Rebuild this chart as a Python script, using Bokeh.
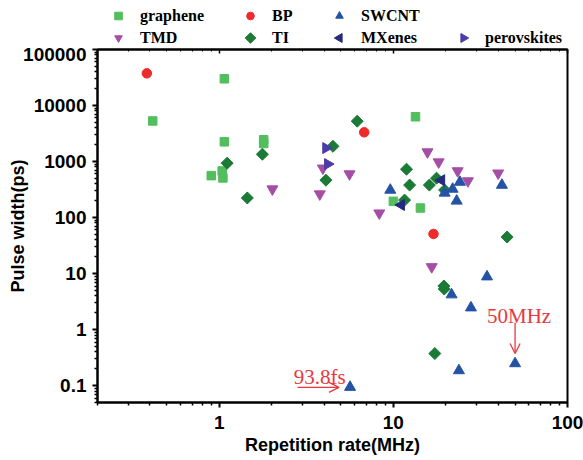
import numpy as np
from bokeh.plotting import figure
from bokeh.layouts import column
from bokeh.models import (FixedTicker, LogAxis, Legend, LegendItem, Label, Arrow, OpenHead,
                          Range1d)
from bokeh.embed import file_html
from bokeh.resources import INLINE

# ---------------- data ----------------
graphene_x = [0.415, 1.07, 1.07, 0.90, 1.04, 1.05, 1.80, 1.80, 13.4, 10.0, 14.3]
graphene_y = [5300, 30000, 2250, 560, 680, 510, 2450, 2100, 6300, 195, 148]

tmd_x = [2.02, 3.78, 3.94, 5.6, 15.7, 18.2, 8.3, 23.4, 26.8, 40.0, 16.6]
tmd_y = [323, 263, 760, 600, 1480, 980, 120, 680, 450, 620, 13.2]

bp_x = [0.384, 6.8, 17.0]
bp_y = [37500, 3330, 51]

ti_x = [1.11, 1.77, 1.45, 4.1, 4.5, 6.2, 11.9, 12.4, 11.6, 16.1, 17.7, 19.7, 45.0, 19.5, 19.6, 17.3]
ti_y = [935, 1350, 224, 465, 1870, 5250, 730, 380, 205, 380, 505, 310, 45, 6.0, 5.3, 0.374]

swcnt_x = [9.6, 19.7, 21.9, 24.1, 23.1, 42.0, 34.5, 21.6, 27.9, 50.0, 23.8, 5.64]
swcnt_y = [310, 275, 323, 430, 198, 380, 8.8, 4.2, 2.46, 0.248, 0.186, 0.0938]

mxenes_x = [18.9, 11.1]
mxenes_y = [465, 168]

perov_x = [4.1, 4.2]
perov_y = [1740, 900]

x_major = [1, 10, 100]
x_major_labels = ["1", "10", "100"]
y_major = [0.1, 1, 10, 100, 1000, 10000, 100000]
y_major_labels = ["0.1", "1", "10", "100", "1000", "10000", "100000"]

# annotations
ann1_text = "93.8fs"
ann1_pos = (2.68, 0.14)
ann1_arrow = (2.82, 0.093, 4.87, 0.093)
ann2_text = "50MHz"
ann2_pos = (34.5, 1.78)
ann2_arrow = (50.0, 1.33, 50.0, 0.374)

# ---------------- colours ----------------
c_gr = "#52BE5E"
c_tmd = "#A54EA5"
c_bp = "#EE2A2A"
c_ti = "#1B7A36"
c_sw = "#2453A6"
c_mx = "#262A7E"
c_pv = "#4B3CA8"
red = "#E8383D"

# ---------------- main figure ----------------
p = figure(width=583, height=413, x_axis_type="log", y_axis_type="log",
           x_range=(0.2, 100), y_range=(0.05, 100000), title=None,
           output_backend="svg", toolbar_location=None,
           min_border_left=97, min_border_right=16, min_border_top=2, min_border_bottom=58)
p.xgrid.visible = False
p.ygrid.visible = False
p.outline_line_color = "black"
p.outline_line_width = 2
p.background_fill_color = "white"

def minor_ticks(lo_exp, hi_exp, lo, hi):
    out = []
    for e in range(lo_exp, hi_exp + 1):
        for k in range(2, 10):
            v = k * 10.0 ** e
            if lo <= v <= hi:
                out.append(v)
    return out

xt = FixedTicker(ticks=x_major, minor_ticks=minor_ticks(-1, 1, 0.2, 100))
yt = FixedTicker(ticks=y_major, minor_ticks=minor_ticks(-2, 4, 0.05, 100000))
p.xaxis.ticker = xt
p.yaxis.ticker = yt
p.xaxis.major_label_overrides = {v: s for v, s in zip(x_major, x_major_labels)}
p.yaxis.major_label_overrides = {v: s for v, s in zip(y_major, y_major_labels)}

for ax in [p.xaxis[0], p.yaxis[0]]:
    ax.axis_line_width = 2
    ax.major_tick_line_width = 2
    ax.minor_tick_line_width = 1.5
    ax.major_tick_out = 5
    ax.major_tick_in = 0
    ax.minor_tick_out = 3
    ax.minor_tick_in = 0
    ax.major_label_text_font = "Liberation Sans"
    ax.major_label_text_font_style = "bold"
    ax.major_label_text_font_size = "19px"
    ax.major_label_text_color = "black"
    ax.axis_label_text_font = "Liberation Sans"
    ax.axis_label_text_font_style = "bold"
    ax.axis_label_text_font_size = "18px"
    ax.axis_label_text_color = "black"

p.xaxis.major_label_standoff = 8
p.yaxis.major_label_standoff = 6
p.xaxis.axis_label_standoff = 3
p.yaxis.axis_label_standoff = -8
p.xaxis.axis_label = "Repetition rate(MHz)"
p.yaxis.axis_label = "Pulse width(ps)"

top = LogAxis(ticker=xt, major_label_text_font_size="1px", major_label_text_alpha=0,
              major_label_standoff=0,
              axis_line_width=2, major_tick_line_width=1.5, minor_tick_line_width=1,
              major_tick_out=0, major_tick_in=4, minor_tick_out=0, minor_tick_in=2)
p.add_layout(top, "above")

r_gr = p.scatter(graphene_x, graphene_y, marker="square", size=8.5, color=c_gr)
r_tmd = p.scatter(tmd_x, tmd_y, marker="inverted_triangle", size=11, color=c_tmd)
r_bp = p.scatter(bp_x, bp_y, marker="circle", size=9.5, color=c_bp)
r_ti = p.scatter(ti_x, ti_y, marker="square", angle=np.pi / 4, size=8.5, color=c_ti)
r_sw = p.scatter(swcnt_x, swcnt_y, marker="triangle", size=11, color=c_sw)
r_mx = p.scatter(mxenes_x, mxenes_y, marker="triangle", angle=np.pi / 2, size=11, color=c_mx)
r_pv = p.scatter(perov_x, perov_y, marker="triangle", angle=-np.pi / 2, size=11, color=c_pv)

for (txt, pos) in [(ann1_text, ann1_pos), (ann2_text, ann2_pos)]:
    p.add_layout(Label(x=pos[0], y=pos[1], text=txt, text_font="Liberation Serif",
                       text_font_size="21px", text_color=red, text_baseline="alphabetic"))
for (xs, ys, xe, ye) in [ann1_arrow, ann2_arrow]:
    p.add_layout(Arrow(end=OpenHead(line_color=red, line_width=1.3, size=10),
                       x_start=xs, y_start=ys, x_end=xe, y_end=ye,
                       line_color=red, line_width=1.3))

# ---------------- legend strip (4 aligned columns) ----------------
# The column layout aligns this strip's frame with the main frame.  Its default
# ranges hold none of the (positive) data; an extra pixel range is used to draw
# the rotated legend swatches that Bokeh's legend does not rotate itself.
lf = figure(width=583, height=47, x_range=(-2, -1), y_range=(-2, -1), title=None,
            output_backend="svg", toolbar_location=None,
            x_axis_location=None, y_axis_location=None,
            min_border_left=97, min_border_right=16,
            min_border_top=0, min_border_bottom=0)
lf.xgrid.visible = False
lf.ygrid.visible = False
lf.outline_line_color = None
lf.extra_x_ranges = {"px": Range1d(0, 470)}
lf.extra_y_ranges = {"px": Range1d(0, 47)}

LG_Y = 0             # legend bottom, px above strip bottom
ROW_H, ROW_GAP = 19, 3
GLYPH_W = 20
col_x = [11, 143, 232, 356]   # legend column left edges, px from frame left

def proxy(xs, ys, marker, color, alpha=1.0):
    return lf.scatter(xs, ys, marker=marker, size=8, color=color, alpha=alpha)

l_gr = proxy(graphene_x, graphene_y, "square", c_gr)
l_tmd = proxy(tmd_x, tmd_y, "inverted_triangle", c_tmd)
l_bp = proxy(bp_x, bp_y, "circle", c_bp)
l_ti = proxy(ti_x, ti_y, "square", c_ti, 0.0)
l_sw = proxy(swcnt_x, swcnt_y, "triangle", c_sw)
l_mx = proxy(mxenes_x, mxenes_y, "triangle", c_mx, 0.0)
l_pv = proxy(perov_x, perov_y, "triangle", c_pv, 0.0)

def col_legend(items, vx):
    lg = Legend(items=items, location=(vx, LG_Y), orientation="vertical",
                padding=0, margin=0, spacing=ROW_GAP,
                glyph_width=GLYPH_W, glyph_height=ROW_H, label_height=ROW_H, label_standoff=12,
                label_text_font="Liberation Serif", label_text_font_style="bold",
                label_text_font_size="16px", label_text_color="black",
                background_fill_alpha=0, border_line_alpha=0)
    lf.add_layout(lg)

col_legend([LegendItem(label="graphene", renderers=[l_gr]),
            LegendItem(label="TMD", renderers=[l_tmd])], col_x[0])
col_legend([LegendItem(label="BP", renderers=[l_bp]),
            LegendItem(label="TI", renderers=[l_ti])], col_x[1])
col_legend([LegendItem(label="SWCNT", renderers=[l_sw]),
            LegendItem(label="MXenes", renderers=[l_mx])], col_x[2])
col_legend([LegendItem(label="perovskites", renderers=[l_pv])], col_x[3])

# rotated swatches for the second row (TI, MXenes, perovskites)
row2_y = LG_Y + ROW_H / 2
sw_x = [col_x[1] + GLYPH_W / 2, col_x[2] + GLYPH_W / 2, col_x[3] + GLYPH_W / 2]
lf.scatter(sw_x[0:1], [row2_y], marker="square", angle=np.pi / 4, size=7.5, color=c_ti,
           x_range_name="px", y_range_name="px")
lf.scatter(sw_x[1:2], [row2_y], marker="triangle", angle=np.pi / 2, size=9, color=c_mx,
           x_range_name="px", y_range_name="px")
lf.scatter(sw_x[2:3], [row2_y], marker="triangle", angle=-np.pi / 2, size=9, color=c_pv,
           x_range_name="px", y_range_name="px")

layout = column(lf, p, spacing=0)
open("out.html", "w").write(file_html(layout, INLINE))
